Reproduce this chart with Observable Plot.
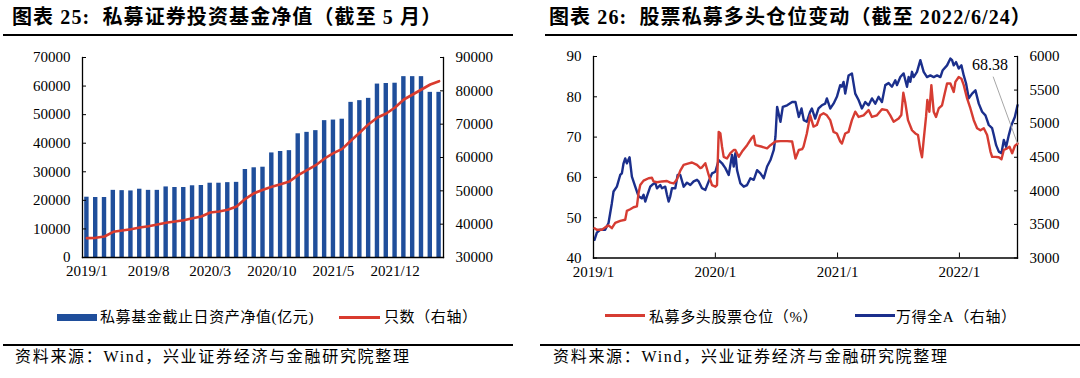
<!DOCTYPE html>
<html><head><meta charset="utf-8">
<script src="https://cdn.jsdelivr.net/npm/d3@7"></script>
<script src="https://cdn.jsdelivr.net/npm/@observablehq/plot@0.6"></script>
<style>
body{margin:0;background:#fff;width:1080px;height:378px;position:relative;overflow:hidden;font-family:"Liberation Serif","Noto Sans CJK SC",serif;color:#000}
.abs{position:absolute}
.title{font-size:20px;font-weight:bold;white-space:pre;top:5px;line-height:24px;letter-spacing:1.1px}
.rule{height:1.5px;background:#000}
.leg{font-size:15px;white-space:pre;line-height:18px;top:308px;letter-spacing:0.6px}
.cap{font-size:16px;white-space:pre;top:347px;line-height:20px;letter-spacing:1.7px}
.chart{top:45px;width:540px;height:240px}
.chart svg{position:absolute;left:0;top:0}
</style></head><body>
<div class="abs title" style="left:12px">图表 25:  私募证券投资基金净值（截至 5 月）</div>
<div class="abs rule" style="left:3px;top:34px;width:510px"></div>
<div class="abs title" style="left:549px">图表 26:  股票私募多头仓位变动（截至 2022/6/24）</div>
<div class="abs rule" style="left:545px;top:34px;width:532px"></div>
<div id="c1" class="abs chart" style="left:0"></div>
<div id="c2" class="abs chart" style="left:540px"></div>
<div class="abs" style="left:57px;top:314px;width:40px;height:7px;background:#1f4e9b"></div>
<div class="abs leg" style="left:100px">私募基金截止日资产净值(亿元)</div>
<div class="abs" style="left:339px;top:316px;width:41px;height:3px;background:#d93b2e"></div>
<div class="abs leg" style="left:384px">只数（右轴）</div>
<div class="abs" style="left:605px;top:314px;width:40px;height:3px;background:#d63c32"></div>
<div class="abs leg" style="left:649px">私募多头股票仓位（%）</div>
<div class="abs" style="left:855px;top:314px;width:40px;height:3px;background:#1b2f8c"></div>
<div class="abs leg" style="left:896px">万得全A（右轴）</div>
<div class="abs rule" style="left:3px;top:344px;width:510px"></div>
<div class="abs rule" style="left:540px;top:344px;width:540px"></div>
<div class="abs cap" style="left:15px">资料来源：Wind，兴业证券经济与金融研究院整理</div>
<div class="abs cap" style="left:553px">资料来源：Wind，兴业证券经济与金融研究院整理</div>
<script>
// ---- Chart 25 data ----
const navMonths = ["2019/1","2019/2","2019/3","2019/4","2019/5","2019/6","2019/7","2019/8","2019/9","2019/10","2019/11","2019/12",
  "2020/1","2020/2","2020/3","2020/4","2020/5","2020/6","2020/7","2020/8","2020/9","2020/10","2020/11","2020/12",
  "2021/1","2021/2","2021/3","2021/4","2021/5","2021/6","2021/7","2021/8","2021/9","2021/10","2021/11","2021/12",
  "2022/1","2022/2","2022/3","2022/4","2022/5"];
const navValues = [21100,21000,21000,23500,23400,23300,23900,23500,23500,24700,24500,24500,25100,25200,26000,26000,26200,26300,
  30800,31400,31600,36600,37100,37400,43300,43800,44400,47900,48100,48400,54300,54900,55700,60700,60900,61000,63300,63300,63300,57800,57800];
const fundCount = [35800,35900,36300,37700,38100,38500,39000,39400,39900,40400,40800,41200,41800,42300,43500,43800,44300,45300,
  47600,49300,50300,51200,52000,52800,54700,56200,57700,59700,61300,62600,65100,67500,70000,72000,73200,75000,77400,78900,80400,81900,82900];
const navMonthLabels = ["2019/1","2019/8","2020/3","2020/10","2021/5","2021/12"];
const navTicks = [0,10000,20000,30000,40000,50000,60000,70000];
const countTicks = [30000,40000,50000,60000,70000,80000,90000];

// ---- Chart 26 data ----
const posDates = ["2019-01-04","2019-01-11","2019-01-26","2019-02-05","2019-02-15","2019-02-25","2019-03-07","2019-03-22","2019-04-06","2019-04-11",
 "2019-04-21","2019-05-01","2019-05-11","2019-05-16","2019-05-21","2019-05-31","2019-06-15","2019-06-25","2019-06-30","2019-07-10",
 "2019-07-25","2019-08-09","2019-08-19","2019-08-29","2019-09-08","2019-09-18","2019-09-28","2019-10-13","2019-10-23","2019-11-07",
 "2019-11-17","2019-11-22","2019-12-02","2019-12-12","2019-12-22","2020-01-01","2020-01-06","2020-01-11","2020-01-16","2020-01-21",
 "2020-01-26","2020-02-05","2020-02-15","2020-02-25","2020-03-01","2020-03-11","2020-03-21","2020-04-05","2020-04-20","2020-04-25",
 "2020-04-30","2020-05-20","2020-06-04","2020-06-14","2020-06-29","2020-07-14","2020-08-03","2020-08-18","2020-08-28","2020-09-07",
 "2020-09-17","2020-09-21","2020-10-01","2020-10-11","2020-10-21","2020-10-31","2020-11-10","2020-11-20","2020-11-30","2020-12-10",
 "2020-12-20","2020-12-30","2021-01-09","2021-01-14","2021-01-24","2021-02-03","2021-02-13","2021-02-23","2021-03-05","2021-03-20",
 "2021-04-04","2021-04-14","2021-04-29","2021-05-14","2021-05-29","2021-06-08","2021-06-18","2021-07-03","2021-07-11","2021-07-17",
 "2021-07-23","2021-07-31","2021-08-12","2021-08-22","2021-08-30","2021-09-06","2021-09-11","2021-09-16","2021-09-23","2021-09-27",
 "2021-10-03","2021-10-09","2021-10-16","2021-10-23","2021-10-31","2021-11-10","2021-11-18","2021-11-25","2021-12-05","2021-12-15",
 "2021-12-20","2021-12-30","2022-01-07","2022-01-14","2022-01-24","2022-02-03","2022-02-13","2022-02-23","2022-03-05","2022-03-15",
 "2022-03-25","2022-04-04","2022-04-09","2022-04-19","2022-04-29","2022-05-07","2022-05-14","2022-05-24","2022-05-31","2022-06-08",
 "2022-06-16","2022-06-24"];
const posValues = [47.4,47.0,47.0,47.6,48.1,47.4,48.7,49.2,49.5,51.7,
 52.1,52.6,52.8,56.1,58.1,59.2,59.8,59.9,59.0,58.8,
 59.0,59.1,58.7,58.5,59.5,61.7,63.1,63.5,63.7,63.1,
 62.3,62.5,63.5,60.6,58.1,57.7,58.1,71.3,70.9,67.6,
 65.1,64.7,66.0,66.8,66.8,65.1,66.4,68.0,69.9,70.3,
 68.0,67.6,67.2,68.0,68.9,69.0,69.0,68.9,64.7,66.8,
 67.0,67.6,70.9,75.4,72.6,73.0,75.4,75.9,75.4,74.2,
 71.3,70.9,68.9,68.4,70.9,71.3,74.2,76.3,75.0,75.4,
 76.7,75.0,75.4,76.9,76.7,75.4,73.8,74.6,75.5,81.0,
 78.5,74.2,71.7,70.9,70.5,66.8,65.0,69.3,75.0,79.2,
 76.3,82.9,76.3,75.0,77.1,77.9,80.8,83.3,83.3,81.2,
 83.7,84.9,84.5,82.9,79.6,77.1,74.2,72.2,71.7,72.2,
 70.5,66.4,65.1,65.1,65.0,64.5,66.8,67.2,67.6,66.0,
 67.8,68.38];
const windDates = ["2019-01-04","2019-01-11","2019-01-21","2019-02-05","2019-02-15","2019-02-25","2019-03-02","2019-03-12","2019-03-22","2019-03-27",
 "2019-04-01","2019-04-06","2019-04-11","2019-04-19","2019-04-26","2019-05-06","2019-05-16","2019-05-26","2019-05-31","2019-06-05",
 "2019-06-10","2019-06-20","2019-06-25","2019-07-05","2019-07-10","2019-07-20","2019-07-25","2019-08-04","2019-08-09","2019-08-14",
 "2019-08-19","2019-08-24","2019-09-03","2019-09-10","2019-09-18","2019-09-28","2019-10-08","2019-10-18","2019-10-28","2019-11-07",
 "2019-11-12","2019-11-22","2019-12-02","2019-12-12","2019-12-22","2020-01-01","2020-01-11","2020-01-21","2020-01-31","2020-02-10",
 "2020-02-20","2020-02-25","2020-03-01","2020-03-06","2020-03-16","2020-03-26","2020-04-05","2020-04-15","2020-04-25","2020-05-05",
 "2020-05-15","2020-05-25","2020-06-04","2020-06-14","2020-06-24","2020-06-29","2020-07-04","2020-07-14","2020-07-21","2020-08-03",
 "2020-08-18","2020-08-28","2020-09-07","2020-09-15","2020-09-22","2020-10-01","2020-10-11","2020-10-16","2020-10-26","2020-11-05",
 "2020-11-15","2020-11-25","2020-11-30","2020-12-10","2020-12-20","2020-12-30","2021-01-09","2021-01-14","2021-01-19","2021-01-24",
 "2021-02-03","2021-02-13","2021-02-23","2021-03-05","2021-03-15","2021-03-25","2021-04-04","2021-04-14","2021-04-24","2021-05-04",
 "2021-05-14","2021-05-24","2021-06-03","2021-06-13","2021-06-23","2021-06-28","2021-07-08","2021-07-18","2021-07-28","2021-08-02",
 "2021-08-07","2021-08-12","2021-08-17","2021-08-27","2021-09-06","2021-09-16","2021-09-26","2021-10-06","2021-10-16","2021-10-26",
 "2021-11-05","2021-11-12","2021-11-25","2021-12-05","2021-12-10","2021-12-15","2021-12-22","2021-12-30","2022-01-07","2022-01-14",
 "2022-01-21","2022-01-29","2022-02-08","2022-02-18","2022-02-28","2022-03-10","2022-03-20","2022-03-30","2022-04-09","2022-04-14",
 "2022-04-21","2022-04-29","2022-05-07","2022-05-14","2022-05-21","2022-05-29","2022-06-06","2022-06-16","2022-06-24"];
const windValues = [3270,3378,3420,3420,3522,3816,3990,4062,4236,4260,
 4410,4482,4410,4500,4212,4062,3918,3888,3942,3840,
 3918,4062,4086,4122,4038,4086,4038,4062,3942,3840,
 3918,4038,4038,4236,4236,4062,4122,4086,4140,4164,
 4140,4038,4014,4140,4260,4284,4458,4410,4338,4236,
 4536,4362,4560,4308,4110,4062,4086,4188,4164,4308,
 4260,4188,4362,4458,4608,4806,5250,5028,5250,5274,
 5322,5322,5100,5226,5052,5028,5178,5226,5076,5226,
 5274,5298,5376,5226,5298,5400,5574,5550,5622,5448,
 5718,5748,5448,5352,5226,5322,5274,5376,5298,5400,
 5322,5574,5604,5550,5646,5574,5694,5748,5550,5694,
 5622,5772,5694,5772,5946,5772,5694,5718,5694,5718,
 5694,5796,5868,5970,5946,5868,5916,5820,5868,5718,
 5598,5376,5448,5496,5298,5178,5124,4980,4932,4830,
 4680,4584,4560,4758,4656,4830,4980,5100,5274];
const posTicks = [40,50,60,70,80,90];
const windTicks = [3000,3500,4000,4500,5000,5500,6000];
const yearTicks = ["2019-01-01","2020-01-01","2021-01-01","2022-01-01"];
const xDomain26 = ["2019-01-01","2022-06-24"];
const lastLabel = {label: "68.38", date: "2022-04-03", value: 88.0, linkDate: "2022-04-12", linkValue: 85.0};

// ---- Build chart 25 ----
const navData = navMonths.map((m, i) => ({month: m, nav: navValues[i], count: fundCount[i]}));
const common = {width: 540, height: 240, style: {background: "transparent", fontFamily: "Liberation Serif, serif", fontSize: "15px", color: "#000", overflow: "visible"}};
const m25 = {marginLeft: 82, marginRight: 97, marginTop: 12, marginBottom: 28};
const plain = d => String(d);

const p25a = Plot.plot({
  ...common, ...m25,
  x: {type: "band", domain: navMonths, paddingInner: 0.5, paddingOuter: 0.25, label: null},
  y: {domain: [0, 70000], label: null},
  marks: [
    Plot.barY(navData, {x: "month", y: "nav", fill: "#1f4e9b"}),
    Plot.frame({anchor: "left", stroke: "#000", strokeWidth: 1.3}),
    Plot.frame({anchor: "bottom", stroke: "#000", strokeWidth: 1.3}),
    Plot.axisY({ticks: navTicks, tickSize: -4, tickPadding: 16, tickFormat: plain, fontSize: 15, label: null}),
    Plot.axisX({ticks: navMonthLabels, tickSize: 0, tickPadding: 8, fontSize: 15, label: null})
  ]
});
const p25b = Plot.plot({
  ...common, ...m25,
  x: {type: "point", domain: navMonths, padding: 0.5, axis: null},
  y: {domain: [30000, 90000], label: null},
  marks: [
    Plot.line(navData, {x: "month", y: "count", stroke: "#d93b2e", strokeWidth: 2.6}),
    Plot.frame({anchor: "right", stroke: "#000", strokeWidth: 1.3}),
    Plot.axisY({anchor: "right", ticks: countTicks, tickSize: -4, tickPadding: 16, tickFormat: plain, fontSize: 15, label: null})
  ]
});
document.getElementById("c1").append(p25a, p25b);

// ---- Build chart 26 ----
const posData = posDates.map((d, i) => ({date: new Date(d), v: posValues[i]}));
const windData = windDates.map((d, i) => ({date: new Date(d), v: windValues[i]}));
const m26 = {marginLeft: 53, marginRight: 63, marginTop: 11, marginBottom: 27.5};
const xs26 = {type: "utc", domain: xDomain26.map(d => new Date(d)), label: null};
const last = posData[posData.length - 1];

const p26a = Plot.plot({
  ...common, ...m26,
  x: xs26,
  y: {domain: [40, 90], label: null},
  marks: [
    Plot.frame({anchor: "left", stroke: "#000", strokeWidth: 1.3}),
    Plot.frame({anchor: "bottom", stroke: "#000", strokeWidth: 1.3}),
    Plot.axisY({ticks: posTicks, tickSize: -4, tickPadding: 16, tickFormat: plain, fontSize: 15, label: null}),
    Plot.axisX({ticks: yearTicks.map(d => new Date(d)), tickSize: -5, tickPadding: 13, fontSize: 15, label: null,
      tickFormat: d => `${d.getUTCFullYear()}/${d.getUTCMonth() + 1}`}),
    Plot.line(posData, {x: "date", y: "v", stroke: "#d63c32", strokeWidth: 2.4}),
    Plot.link([lastLabel], {x1: d => new Date(d.linkDate), y1: "linkValue", x2: () => last.date, y2: () => last.v, stroke: "#a6a6a6", strokeWidth: 1}),
    Plot.text([lastLabel], {x: d => new Date(d.date), y: "value", text: "label", fontSize: 16, fill: "#000"})
  ]
});
const p26b = Plot.plot({
  ...common, ...m26,
  x: {...xs26, axis: null},
  y: {domain: [3000, 6000], label: null},
  marks: [
    Plot.line(windData, {x: "date", y: "v", stroke: "#1b2f8c", strokeWidth: 2.4}),
    Plot.frame({anchor: "right", stroke: "#000", strokeWidth: 1.3}),
    Plot.axisY({anchor: "right", ticks: windTicks, tickSize: -4, tickPadding: 16, tickFormat: plain, fontSize: 15, label: null})
  ]
});
document.getElementById("c2").append(p26b, p26a);
</script>
</body></html>
